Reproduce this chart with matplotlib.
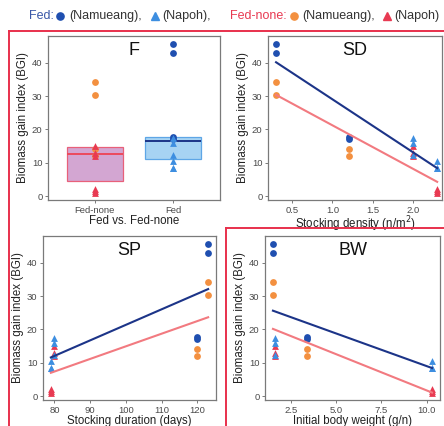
import numpy as np
import matplotlib
matplotlib.use("Agg")
import matplotlib.pyplot as plt
from matplotlib.lines import Line2D

plt.rcParams['font.family'] = ['Liberation Sans', 'DejaVu Sans']

# ---------------- data ----------------
# groups: A, B (Namueang), C, D (Napoh)
group_names = ["A", "B", "C", "D"]
group_site = ["Namueang", "Namueang", "Napoh", "Napoh"]
stocking_density = [0.3, 1.2, 2.0, 2.3]      # n/m2
stocking_duration = [123, 120, 80, 79]        # days
body_weight = [1.5, 3.4, 1.6, 10.3]           # g/n

fed_bgi = [[45.7, 42.8], [17.8, 17.2], [17.3, 15.8, 12.3], [10.6, 8.5, 8.3]]
fednone_bgi = [[34.2, 30.3], [14.0, 12.0], [15.0, 13.0, 12.0], [2.2, 1.4, 1.0]]

box_categories = ["Fed-none", "Fed"]
y_ticks = [0, 10, 20, 30, 40]

# ---------------- styles ----------------
C_FED_CIRC = "#1f4fb0"
C_FED_TRI = "#3d8ee0"
C_NON_CIRC = "#f39040"
C_NON_TRI = "#e83a52"
C_FED_LINE = "#1c3488"
C_NON_LINE = "#f27a80"
C_FRAME = "#e8304c"
C_AX = "#7a7a7a"
C_TICK = "#4a4a4a"

W, H = 444, 426
fig = plt.figure(figsize=(W / 100, H / 100), dpi=100)


def ax_px(x0, x1, y0, y1):
    return fig.add_axes([x0 / W, 1 - y1 / H, (x1 - x0) / W, (y1 - y0) / H])


YLIM = (-1.2, 48)


def style(ax, label):
    for s in ax.spines.values():
        s.set_color(C_AX)
        s.set_linewidth(0.9)
    ax.tick_params(axis='both', length=2.5, width=0.7, color=C_AX,
                   labelsize=6.8, labelcolor=C_TICK, pad=1.5)
    ax.set_ylim(*YLIM)
    ax.set_yticks(y_ticks)
    ax.set_ylabel("Biomass gain index (BGI)", fontsize=8.3, color="#222222", labelpad=2)
    ax.text(0.5, 0.965, label, transform=ax.transAxes, ha='center', va='top',
            fontsize=13, color="#111111")


def scatter_groups(ax, xs):
    for gi in range(4):
        tri = group_site[gi] == "Napoh"
        mk = '^' if tri else 'o'
        xf = [xs[gi]] * len(fed_bgi[gi])
        xn = [xs[gi]] * len(fednone_bgi[gi])
        ax.scatter(xn, fednone_bgi[gi], marker=mk, s=24,
                   color=C_NON_TRI if tri else C_NON_CIRC, zorder=3, linewidths=0)
        ax.scatter(xf, fed_bgi[gi], marker=mk, s=24,
                   color=C_FED_TRI if tri else C_FED_CIRC, zorder=3, linewidths=0)


def fit_lines(ax, xs):
    for vals, col in ((fednone_bgi, C_NON_LINE), (fed_bgi, C_FED_LINE)):
        xx = np.concatenate([[xs[g]] * len(vals[g]) for g in range(4)])
        yy = np.concatenate(vals)
        k, b = np.polyfit(xx, yy, 1)
        xl = np.array([xx.min(), xx.max()])
        ax.plot(xl, k * xl + b, color=col, lw=1.5, zorder=4)


# ---- Panel F ----
axF = ax_px(48, 220, 36, 200)
fednone_all = np.concatenate(fednone_bgi)
fed_all = np.concatenate(fed_bgi)
bp = axF.boxplot([fednone_all, fed_all], positions=[1, 2], widths=0.72,
                 patch_artist=True, showfliers=False, showcaps=False, whis=0)
box_fill = ["#d3a6d2", "#a7d3f3"]
box_edge = ["#e8607a", "#5ea6e6"]
med_col = ["#ec4a5c", C_FED_LINE]
for i in range(2):
    bp['boxes'][i].set(facecolor=box_fill[i], edgecolor=box_edge[i], linewidth=0.9)
    bp['medians'][i].set(color=med_col[i], linewidth=1.4)
for w in bp['whiskers']:
    w.set_visible(False)
for gi in range(4):
    tri = group_site[gi] == "Napoh"
    mk = '^' if tri else 'o'
    axF.scatter([1] * len(fednone_bgi[gi]), fednone_bgi[gi], marker=mk, s=24,
                color=C_NON_TRI if tri else C_NON_CIRC, zorder=3, linewidths=0)
    axF.scatter([2] * len(fed_bgi[gi]), fed_bgi[gi], marker=mk, s=24,
                color=C_FED_TRI if tri else C_FED_CIRC, zorder=3, linewidths=0)
axF.set_xlim(0.4, 2.6)
axF.set_xticks([1, 2])
axF.set_xticklabels(box_categories)
style(axF, "F")
axF.set_xlabel("Fed vs. Fed-none", fontsize=8.3, color="#222222", labelpad=0)

# ---- Panel SD ----
axSD = ax_px(268, 442, 36, 200)
scatter_groups(axSD, stocking_density)
fit_lines(axSD, stocking_density)
axSD.set_xlim(0.2, 2.36)
axSD.set_xticks([0.5, 1.0, 1.5, 2.0])
style(axSD, "SD")
axSD.set_xlabel("Stocking density (n/m$^2$)", fontsize=8.3, color="#222222", labelpad=0)

# ---- Panel SP ----
axSP = ax_px(43, 216, 236, 400)
scatter_groups(axSP, stocking_duration)
fit_lines(axSP, stocking_duration)
axSP.set_xlim(76.8, 125.2)
axSP.set_xticks([80, 90, 100, 110, 120])
style(axSP, "SP")
axSP.set_xlabel("Stocking duration (days)", fontsize=8.3, color="#222222", labelpad=0)

# ---- Panel BW ----
axBW = ax_px(265, 440, 236, 400)
scatter_groups(axBW, body_weight)
fit_lines(axBW, body_weight)
axBW.set_xlim(1.06, 10.74)
axBW.set_xticks([2.5, 5.0, 7.5, 10.0])
style(axBW, "BW")
axBW.set_xlabel("Initial body weight (g/n)", fontsize=8.3, color="#222222", labelpad=0)

# ---- red frames ----
def fline(xs, ys):
    fig.add_artist(Line2D([x / W for x in xs], [1 - y / H for y in ys],
                          transform=fig.transFigure, color=C_FRAME, lw=1.4))

fline([9, 444], [31, 31])
fline([9, 9], [31, 426])
fline([226, 444], [228, 228])
fline([226, 226], [228, 426])

# ---- legend line ----
ly = 1 - 16 / H
fs = 9
fig.text(29 / W, ly, "Fed:", color="#3a58a8", fontsize=fs, va='center')
fig.text(69 / W, ly, "(Namueang),", color="#333333", fontsize=fs, va='center')
fig.text(162 / W, ly, "(Napoh),", color="#333333", fontsize=fs, va='center')
fig.text(230 / W, ly, "Fed-none:", color=C_NON_TRI, fontsize=fs, va='center')
fig.text(302 / W, ly, "(Namueang),", color="#333333", fontsize=fs, va='center')
fig.text(394 / W, ly, "(Napoh)", color="#333333", fontsize=fs, va='center')
for xp, mk, col in ((60, 'o', C_FED_CIRC), (155, '^', C_FED_TRI),
                    (294, 'o', C_NON_CIRC), (387, '^', C_NON_TRI)):
    fig.add_artist(Line2D([xp / W], [ly], transform=fig.transFigure, marker=mk,
                          markersize=5.2, color=col, linestyle='none'))

fig.savefig("out.png", dpi=100)
